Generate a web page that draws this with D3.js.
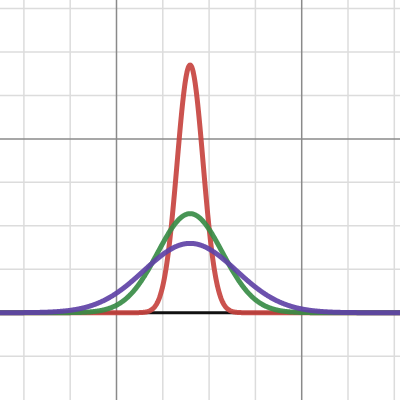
<!DOCTYPE html>
<html>
<head>
<meta charset="utf-8">
<script src="https://cdn.jsdelivr.net/npm/d3@7"></script>
<style>
  body { margin: 0; background: #fff; }
  svg { display: block; }
</style>
</head>
<body>
<div id="graph"></div>
<script>
// curve parameters (normal densities)
const curveIds = ["narrow", "medium", "wide"];
const curveMeans = [1.59, 1.59, 1.59];
const curveSigmas = [0.28, 0.7, 1.0];

// grid lines
const xGrid = [-2, -1, 0, 1, 2, 3, 4, 5, 6];
const xMajor = [0, 4];
const yGrid = [-0.25, 0, 0.25, 0.5, 0.75, 1, 1.25, 1.5, 1.75];
const yMajor = [0, 1];

const colors = ["#c74440", "#388c46", "#6042a6"];

const width = 400, height = 400;

const svg = d3.select("#graph")
    .append("svg")
    .attr("width", width)
    .attr("height", height);

const xScale = d3.scaleLinear().domain([-2.516, 6.123]).range([0, width]);
const yScale = d3.scaleLinear().domain([-0.502, 1.799]).range([height, 0]);

// minor grid
svg.append("g").selectAll("line")
    .data(xGrid.filter(d => !xMajor.includes(d)))
    .join("line")
    .attr("x1", d => xScale(d)).attr("x2", d => xScale(d))
    .attr("y1", 0).attr("y2", height)
    .attr("stroke", "#dcdcdc").attr("stroke-width", 1.5);

svg.append("g").selectAll("line")
    .data(yGrid.filter(d => !yMajor.includes(d)))
    .join("line")
    .attr("x1", 0).attr("x2", width)
    .attr("y1", d => yScale(d)).attr("y2", d => yScale(d))
    .attr("stroke", "#dcdcdc").attr("stroke-width", 1.5);

// major grid
svg.append("g").selectAll("line")
    .data(xMajor)
    .join("line")
    .attr("x1", d => xScale(d)).attr("x2", d => xScale(d))
    .attr("y1", 0).attr("y2", height)
    .attr("stroke", "#8a8a8a").attr("stroke-width", 1.5);

svg.append("g").selectAll("line")
    .data(yMajor)
    .join("line")
    .attr("x1", 0).attr("x2", width)
    .attr("y1", d => yScale(d)).attr("y2", d => yScale(d))
    .attr("stroke", "#8a8a8a").attr("stroke-width", 1.5);

// baseline
svg.append("line")
    .attr("x1", 0).attr("x2", width)
    .attr("y1", yScale(0)).attr("y2", yScale(0))
    .attr("stroke", "#111").attr("stroke-width", 3);

const pdf = (x, mu, s) => Math.exp(-((x - mu) ** 2) / (2 * s * s)) / (s * Math.sqrt(2 * Math.PI));

const xs = d3.range(-2.6, 6.2, 0.01);
const line = d3.line()
    .x(d => xScale(d[0]))
    .y(d => yScale(d[1]))
    .curve(d3.curveLinear);

curveIds.forEach((id, i) => {
    const pts = xs.map(x => [x, pdf(x, curveMeans[i], curveSigmas[i])]);
    svg.append("path")
        .datum(pts)
        .attr("class", "curve-" + id)
        .attr("d", line)
        .attr("fill", "none")
        .attr("stroke", colors[i])
        .attr("stroke-width", 5)
        .attr("stroke-opacity", 0.92)
        .attr("stroke-linejoin", "round")
        .attr("stroke-linecap", "round");
});
</script>
</body>
</html>
